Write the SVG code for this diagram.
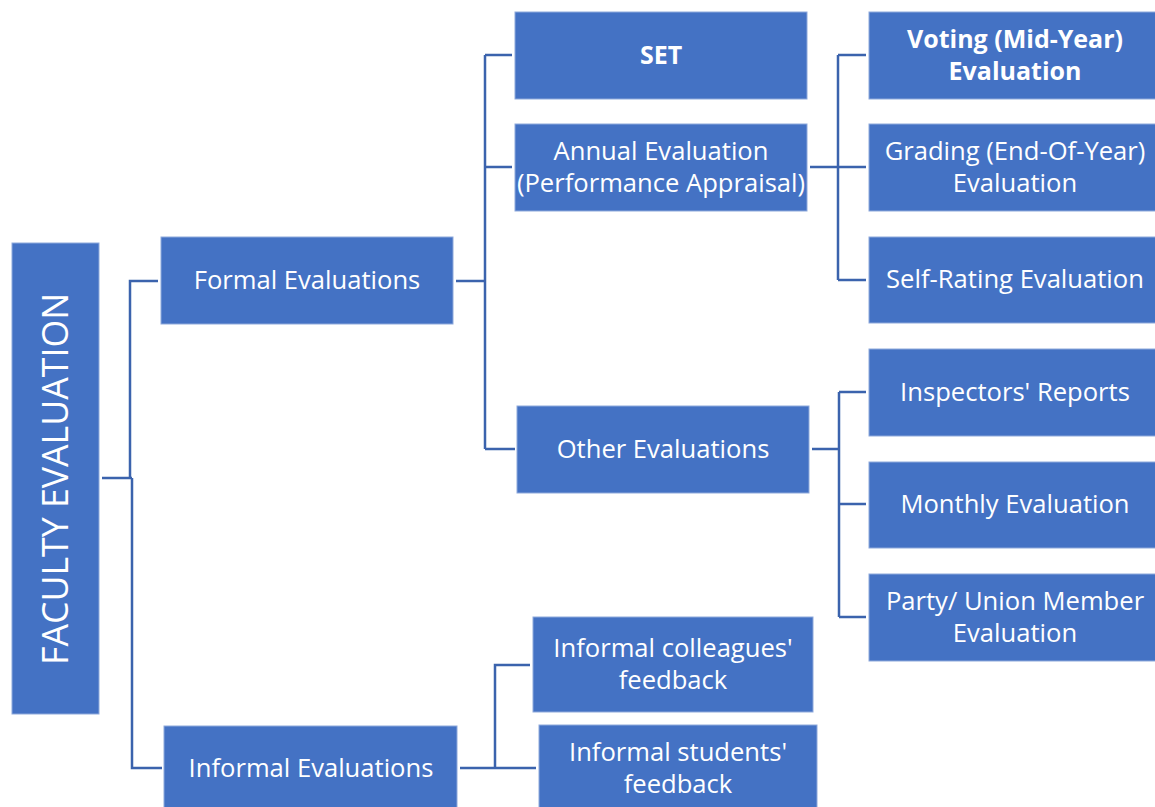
<svg xmlns="http://www.w3.org/2000/svg" width="1155" height="807" viewBox="0 0 1155 807">
<style>
.box{fill:#4472C4;stroke:#8EA9DB;stroke-width:1}
.t{font-family:"Open Sans","Liberation Sans",sans-serif;font-size:25.6px;fill:#FFFFFF;text-anchor:middle}
.b{font-weight:bold;font-size:25px}
.c{fill:none;stroke:#3B63AD;stroke-width:2.5}
</style>
<rect width="1155" height="807" fill="#FFFFFF"/>
<g id="connectors">
<path class="c" d="M102,478 H132 M130,478 V281 H158 M132,478 V768 H162"/>
<path class="c" d="M456,281 H485 M485,55 V449 M485,55 H512 M485,167 H512 M485,449 H515"/>
<path class="c" d="M810,167 H838 M838,55 V280 M838,55 H866 M838,167 H866 M838,280 H866"/>
<path class="c" d="M812,449 H839 M839,392 V617 M839,392 H866 M839,504 H866 M839,617 H866"/>
<path class="c" d="M460,768 H536 M495,768 V665 H530"/>
</g>
<g id="root"><rect class="box" x="12" y="243" width="87" height="471"/>
<text class="t" transform="translate(68,479) rotate(-90)" style="font-size:36px" textLength="372" lengthAdjust="spacingAndGlyphs">FACULTY EVALUATION</text></g>
<g id="formal"><rect class="box" x="161" y="237" width="292" height="87"/>
<text class="t" x="307" y="289">Formal Evaluations</text></g>
<g id="informal"><rect class="box" x="164" y="726" width="293" height="90"/>
<text class="t" x="311" y="777">Informal Evaluations</text></g>
<g id="set"><rect class="box" x="515" y="12" width="292" height="87"/>
<text class="t b" x="661" y="64">SET</text></g>
<g id="annual"><rect class="box" x="515" y="124" width="292" height="87"/>
<text class="t" x="661" y="160">Annual Evaluation</text>
<text class="t" x="661" y="192">(Performance Appraisal)</text></g>
<g id="other"><rect class="box" x="517" y="406" width="292" height="87"/>
<text class="t" x="663" y="458">Other Evaluations</text></g>
<g id="voting"><rect class="box" x="869" y="12" width="290" height="87"/>
<text class="t b" x="1015" y="48">Voting (Mid-Year)</text>
<text class="t b" x="1015" y="80">Evaluation</text></g>
<g id="grading"><rect class="box" x="869" y="124" width="290" height="87"/>
<text class="t" x="1015" y="160">Grading (End-Of-Year)</text>
<text class="t" x="1015" y="192">Evaluation</text></g>
<g id="selfrating"><rect class="box" x="869" y="237" width="290" height="86"/>
<text class="t" x="1015" y="288">Self-Rating Evaluation</text></g>
<g id="inspectors"><rect class="box" x="869" y="349" width="290" height="87"/>
<text class="t" x="1015" y="401">Inspectors' Reports</text></g>
<g id="monthly"><rect class="box" x="869" y="462" width="290" height="86"/>
<text class="t" x="1015" y="513">Monthly Evaluation</text></g>
<g id="party"><rect class="box" x="869" y="574" width="290" height="87"/>
<text class="t" x="1015" y="610">Party/ Union Member</text>
<text class="t" x="1015" y="642">Evaluation</text></g>
<g id="colleagues"><rect class="box" x="533" y="617" width="280" height="95"/>
<text class="t" x="673" y="657">Informal colleagues'</text>
<text class="t" x="673" y="689">feedback</text></g>
<g id="students"><rect class="box" x="539" y="725" width="278" height="90"/>
<text class="t" x="678" y="761">Informal students'</text>
<text class="t" x="678" y="793">feedback</text></g>
</svg>
